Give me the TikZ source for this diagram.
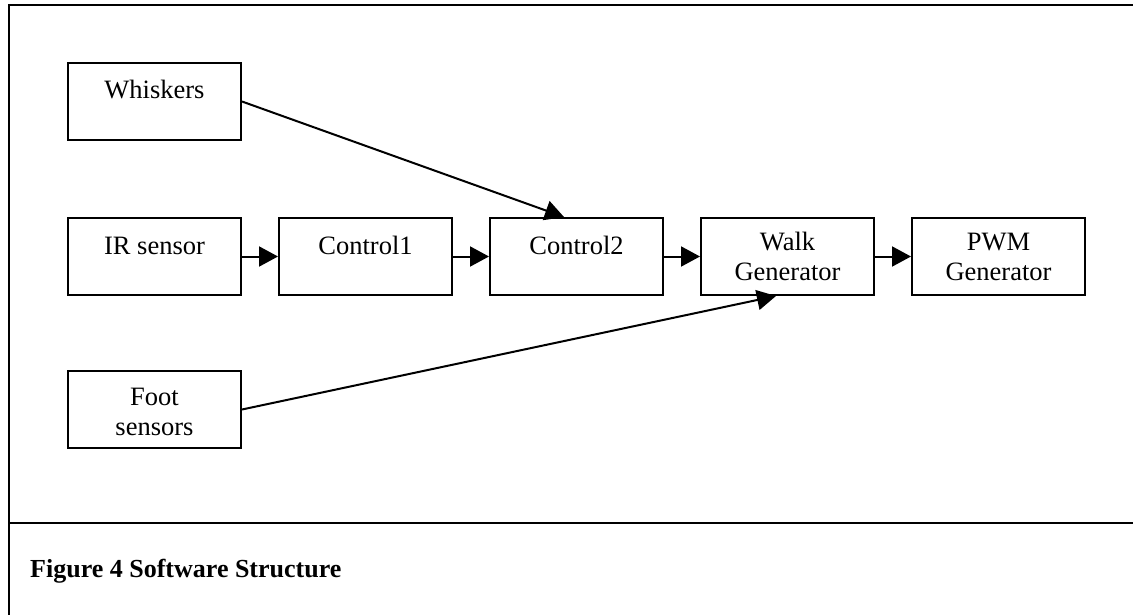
\documentclass[tikz,border=0pt]{standalone}
\usepackage{fontspec}
\setmainfont{Liberation Serif}
\usetikzlibrary{arrows.meta}
\begin{document}
\begin{tikzpicture}[x=1pt,y=-1pt,
 boxnode/.style={draw, line width=2pt, minimum width=173pt, minimum height=77pt, inner sep=0pt, anchor=north west},
 lbl/.style={font=\fontsize{26.5}{30}\selectfont, align=center, inner sep=0pt, anchor=base},
 conn/.style={line width=2pt, -{Triangle[length=19pt,width=20pt]}},
 frameline/.style={line width=2.2pt}]
\useasboundingbox (0,0) rectangle (1133,615);
\coordinate (ftl) at (9,5);
\coordinate (ftr) at (1133,5);
\coordinate (fbl) at (9,615);
\coordinate (sl) at (9,523);
\coordinate (sr) at (1133,523);
\draw[frameline] (ftr) -- (ftl) -- (fbl);
\draw[frameline] (sl) -- (sr);
\node[boxnode] (whis) at (67,62) {};
\node[boxnode] (ir) at (67,217) {};
\node[boxnode] (c1) at (278,217) {};
\node[boxnode] (c2) at (489,217) {};
\node[boxnode] (walk) at (700,217) {};
\node[boxnode] (pwm) at (911,217) {};
\node[boxnode] (foot) at (67,370) {};
\node[lbl] (whist) at ([yshift=-37pt]whis.north) {Whiskers};
\node[lbl] (irt) at ([yshift=-37pt]ir.north) {IR sensor};
\node[lbl] (c1t) at ([yshift=-37pt]c1.north) {Control1};
\node[lbl] (c2t) at ([yshift=-37pt]c2.north) {Control2};
\node[lbl] (walkt) at ([yshift=-63.5pt]walk.north) {Walk\\Generator};
\node[lbl] (pwmt) at ([yshift=-63.5pt]pwm.north) {PWM\\Generator};
\node[lbl] (foott) at ([yshift=-65pt]foot.north) {Foot\\sensors};
\coordinate (c2in) at ([xshift=-12.5pt]c2.north);
\coordinate (walkin) at ([xshift=-11.5pt]walk.south);
\draw[conn] (ir.east) -- (c1.west);
\draw[conn] (c1.east) -- (c2.west);
\draw[conn] (c2.east) -- (walk.west);
\draw[conn] (walk.east) -- (pwm.west);
\draw[conn] (whis.east) -- (c2in);
\draw[conn] (foot.east) -- (walkin);
\node[font=\fontsize{26}{30}\selectfont\bfseries, anchor=base west, inner sep=0pt] (cap) at (30,577) {Figure 4 Software Structure};
\end{tikzpicture}
\end{document}
